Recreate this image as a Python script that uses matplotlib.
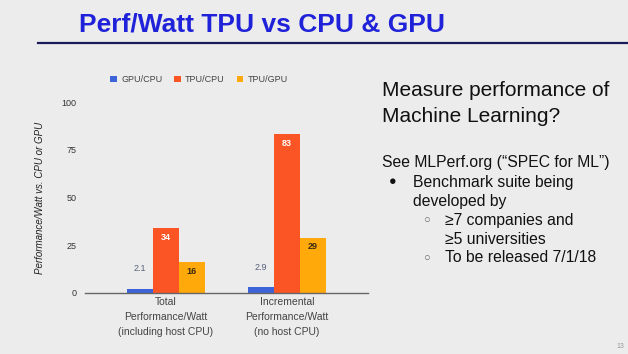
import matplotlib.pyplot as plt
import numpy as np

plt.rcParams['font.family'] = ['Liberation Sans', 'DejaVu Sans']

# data
groups = ['Total\nPerformance/Watt\n(including host CPU)',
          'Incremental\nPerformance/Watt\n(no host CPU)']
series = ['GPU/CPU', 'TPU/CPU', 'TPU/GPU']
gpu_cpu = [2.1, 2.9]
tpu_cpu = [34, 83]
tpu_gpu = [16, 29]
value_labels = [['2.1', '2.9'], ['34', '83'], ['16', '29']]
colors = ['#3d63d8', '#fb5526', '#ffa90a']
label_colors = ['#56617c', 'white', '#3a2a10']

bg = '#ececec'
fig = plt.figure(figsize=(6.28, 3.54), dpi=100, facecolor=bg)

# slide title and rule
fig.text(262 / 628, 1 - 25 / 354, 'Perf/Watt TPU vs CPU & GPU', ha='center', va='center',
         fontsize=19, fontweight='bold', color='#1f22d8')
fig.add_artist(plt.Line2D([38 / 628, 1.0], [1 - 43 / 354] * 2, color='#1b1b5a', lw=1.6))

ax = fig.add_axes([85 / 628, 61 / 354, 283 / 628, 191 / 354])
ax.set_facecolor(bg)
x = np.arange(len(groups))
w = 0.215
vals = [gpu_cpu, tpu_cpu, tpu_gpu]
for i, (name, v) in enumerate(zip(series, vals)):
    bars = ax.bar(x + (i - 1) * w, v, w, color=colors[i], label=name, zorder=2)
    for b, t in zip(bars, value_labels[i]):
        cx = b.get_x() + b.get_width() / 2
        if i == 0:
            ax.annotate(t, (cx, b.get_height()), xytext=(0, 20), textcoords='offset pixels',
                        ha='center', va='center', fontsize=6.5, color=label_colors[i])
        else:
            ax.annotate(t, (cx, b.get_height()), xytext=(0, -9), textcoords='offset pixels',
                        ha='center', va='center', fontsize=6.5, fontweight='bold',
                        color=label_colors[i])

ax.set_xlim(-0.67, 1.67)
ax.set_ylim(0, 100)
ax.set_yticks([0, 25, 50, 75, 100])
ax.set_xticks(x)
ax.set_xticklabels(groups, fontsize=7.5, color='#444444', linespacing=1.6)
ax.tick_params(axis='y', length=0, pad=6, labelsize=6.5, labelcolor='#333333')
ax.tick_params(axis='x', length=0, pad=3)
for s in ['top', 'right', 'left']:
    ax.spines[s].set_visible(False)
ax.spines['bottom'].set_color('#666666')
ax.spines['bottom'].set_linewidth(1)
ax.set_ylabel('Performance/Watt vs. CPU or GPU', fontsize=7, style='italic',
              color='#222222', labelpad=12)

leg = ax.legend(loc='lower center', bbox_to_anchor=(0.403, 1.05), ncol=3, frameon=False,
                fontsize=6.5, handlelength=0.7, handleheight=0.7, columnspacing=1.3,
                handletextpad=0.5)
for t in leg.get_texts():
    t.set_color('#444444')

# right hand text
for py, line in [(90, 'Measure performance of'), (116, 'Machine Learning?')]:
    fig.text(382 / 628, 1 - py / 354, line, ha='left', va='center', fontsize=15,
             color='#111111')
body = [
    (382, 163, None, 'See MLPerf.org (\u201cSPEC for ML\u201d)'),
    (413, 182, '\u25cf', 'Benchmark suite being'),
    (413, 201, None, 'developed by'),
    (445, 220, '\u25cb', '\u22657 companies and'),
    (445, 239, None, '\u22655 universities'),
    (445, 258, '\u25cb', 'To be released 7/1/18'),
]
for px, py, bullet, txt in body:
    fig.text(px / 628, 1 - py / 354, txt, ha='left', va='center', fontsize=11.3,
             color='#111111')
    if bullet == '\u25cf':
        fig.text(393 / 628, 1 - py / 354, bullet, ha='center', va='center', fontsize=9,
                 color='#111111')
    elif bullet:
        fig.text(426 / 628, 1 - py / 354, bullet, ha='center', va='center', fontsize=8,
                 color='#666666')

fig.text(620 / 628, 1 - 346 / 354, '13', ha='center', va='center', fontsize=5, color='#999999')

fig.savefig('out.png', dpi=100, facecolor=bg)
